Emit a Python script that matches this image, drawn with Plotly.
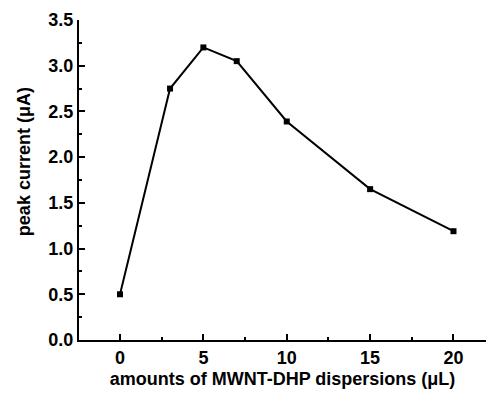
import plotly.graph_objects as go

# Peak current vs. amount of MWNT-DHP dispersion
amounts_uL = [0, 3, 5, 7, 10, 15, 20]
peak_current_uA = [0.50, 2.75, 3.20, 3.05, 2.39, 1.65, 1.19]

x_ticks = [0, 5, 10, 15, 20]
y_ticks = [0.0, 0.5, 1.0, 1.5, 2.0, 2.5, 3.0, 3.5]

font_family = "Liberation Sans, Arial, sans-serif"

fig = go.Figure(
    go.Scatter(
        x=amounts_uL,
        y=peak_current_uA,
        mode="lines+markers",
        line=dict(color="black", width=2),
        marker=dict(symbol="square", size=6, color="black"),
        showlegend=False,
    )
)

fig.update_layout(
    width=486,
    height=394,
    margin=dict(l=79, r=0, t=20, b=54),
    paper_bgcolor="white",
    plot_bgcolor="white",
    font=dict(family=font_family, color="black"),
)

fig.update_xaxes(
    range=[-2.46, 21.95],
    tickvals=x_ticks,
    ticktext=[str(v) for v in x_ticks],
    ticks="inside",
    ticklen=6,
    tickwidth=2,
    tickcolor="black",
    minor=dict(dtick=2.5, ticks="inside", ticklen=3, tickwidth=2, tickcolor="black"),
    showline=True,
    linewidth=2,
    linecolor="black",
    showgrid=False,
    zeroline=False,
    tickfont=dict(size=18, family=font_family, weight="bold"),
    title=dict(
        text="amounts of MWNT-DHP dispersions (μL)",
        font=dict(size=18, family=font_family, weight="bold"),
        standoff=6,
    ),
)

fig.update_yaxes(
    range=[0, 3.5],
    tickvals=y_ticks,
    ticktext=[f"{v:.1f}" for v in y_ticks],
    ticks="inside",
    ticklen=6,
    tickwidth=2,
    tickcolor="black",
    minor=dict(dtick=0.25, ticks="inside", ticklen=3, tickwidth=2, tickcolor="black"),
    showline=True,
    linewidth=2,
    linecolor="black",
    showgrid=False,
    zeroline=False,
    tickfont=dict(size=18, family=font_family, weight="bold"),
)

# Y-axis title placed as a rotated annotation, slightly above the plot centre
fig.add_annotation(
    text="peak current (μA)",
    textangle=-90,
    xref="paper",
    yref="paper",
    x=-0.135,
    y=0.556,
    xanchor="center",
    yanchor="middle",
    showarrow=False,
    font=dict(size=18, family=font_family, weight="bold", color="black"),
)

fig.write_html("out.html")
